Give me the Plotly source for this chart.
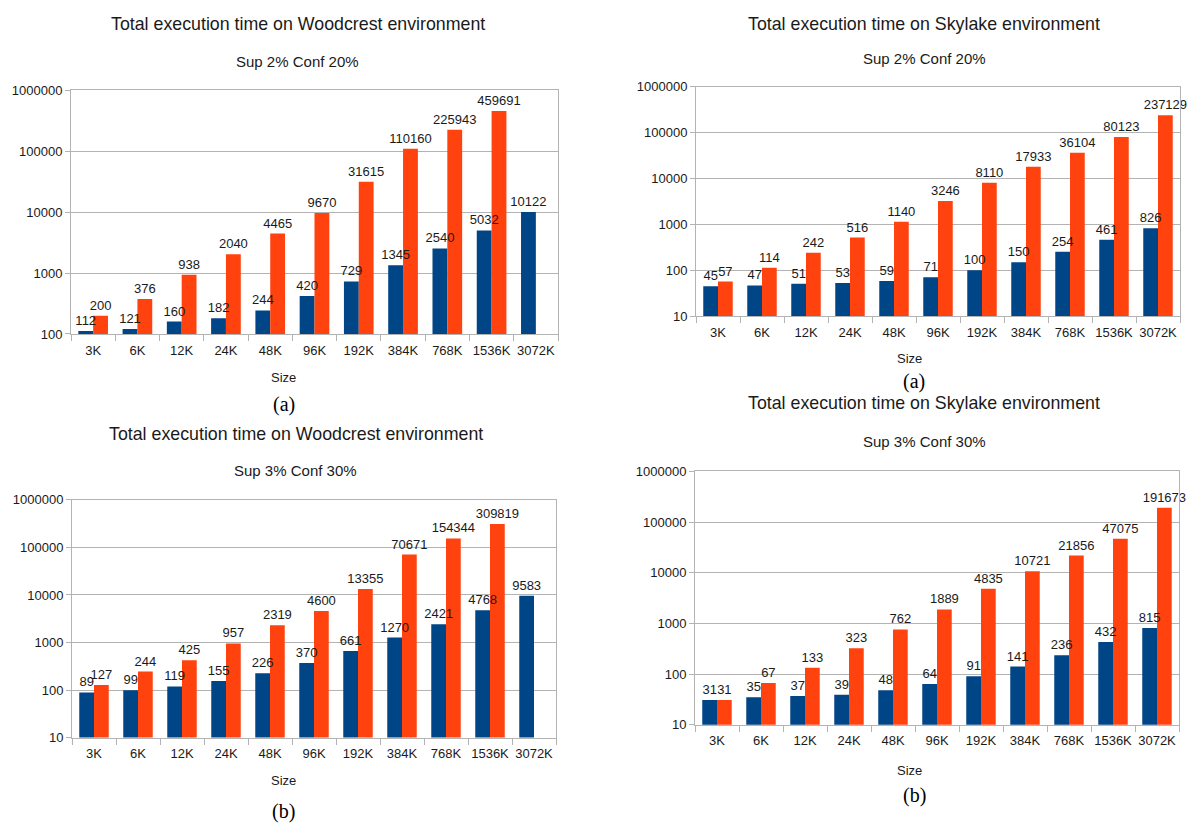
import plotly.graph_objects as go

W, H = 1194, 830

categories = ["3K", "6K", "12K", "24K", "48K", "96K", "192K", "384K", "768K", "1536K", "3072K"]

woodcrest_a_blue = [112, 121, 160, 182, 244, 420, 729, 1345, 2540, 5032, 10122]
woodcrest_a_orange = [200, 376, 938, 2040, 4465, 9670, 31615, 110160, 225943, 459691, None]
skylake_a_blue = [45, 47, 51, 53, 59, 71, 100, 150, 254, 461, 826]
skylake_a_orange = [57, 114, 242, 516, 1140, 3246, 8110, 17933, 36104, 80123, 237129]
woodcrest_b_blue = [89, 99, 119, 155, 226, 370, 661, 1270, 2421, 4768, 9583]
woodcrest_b_orange = [127, 244, 425, 957, 2319, 4600, 13355, 70671, 154344, 309819, None]
skylake_b_blue = [31, 35, 37, 39, 48, 64, 91, 141, 236, 432, 815]
skylake_b_orange = [31, 67, 133, 323, 762, 1889, 4835, 10721, 21856, 47075, 191673]

titles = ["Total execution time on Woodcrest environment", "Total execution time on Skylake environment",
          "Total execution time on Woodcrest environment", "Total execution time on Skylake environment"]
subtitles = ["Sup 2% Conf 20%", "Sup 2% Conf 20%", "Sup 3% Conf 30%", "Sup 3% Conf 30%"]
captions = ["(a)", "(a)", "(b)", "(b)"]
y_ticks = [10, 100, 1000, 10000, 100000, 1000000]
y_tick_text = ["10", "100", "1000", "10000", "100000", "1000000"]

BLUE = "#004586"
ORANGE = "#ff420e"
GRID = "#b3b3b3"
TXT = "#1a1a1a"
SANS = "Liberation Sans, Arial, sans-serif"
SERIF = "Liberation Serif, Times New Roman, serif"

# panel layout in pixels: (x0, x1, ytop, ybottom, log range)
panels = [
    dict(x0=71, x1=558, yt=85, yb=333, rng=[2, 6], series=(woodcrest_a_blue, woodcrest_a_orange),
         title_xy=(298, 17), sub_xy=(297, 55), size_xy=(283, 377), cap_xy=(284, 405)),
    dict(x0=696, x1=1180, yt=81, yb=315, rng=[1, 6], series=(skylake_a_blue, skylake_a_orange),
         title_xy=(924, 17), sub_xy=(924, 52), size_xy=(909, 358), cap_xy=(914, 381)),
    dict(x0=72, x1=556, yt=502, yb=744, rng=[1, 6], series=(woodcrest_b_blue, woodcrest_b_orange),
         title_xy=(296, 435), sub_xy=(295, 472), size_xy=(283, 788), cap_xy=(283, 819)),
    dict(x0=695, x1=1179, yt=473, yb=731, rng=[1, 6], series=(skylake_b_blue, skylake_b_orange),
         title_xy=(924, 403), sub_xy=(924, 443), size_xy=(909, 778), cap_xy=(914, 803)),
]

def px(x):
    return x / W

def py(y):
    return 1 - y / H

fig = go.Figure()
annotations = []
layout_axes = {}

for i, p in enumerate(panels):
    n = i + 1
    xa = "x" if n == 1 else f"x{n}"
    ya = "y" if n == 1 else f"y{n}"
    blue, orange = p["series"]
    groups = (("b", blue, BLUE), ("o", orange, ORANGE))
    # coloured bars first
    for og, vals, col in groups:
        fig.add_trace(go.Bar(
            x=categories, y=vals, xaxis=xa, yaxis=ya, offsetgroup=f"{og}{n}",
            marker=dict(color=col, line=dict(width=0)),
            showlegend=False, hoverinfo="skip",
        ))
    # value labels on top of all bars
    for og, vals, col in groups:
        fig.add_trace(go.Bar(
            x=categories, y=vals, xaxis=xa, yaxis=ya, offsetgroup=f"{og}{n}",
            marker=dict(color="rgba(0,0,0,0)", line=dict(width=0)),
            text=["" if v is None else str(v) for v in vals],
            textposition="outside", cliponaxis=False, constraintext="none",
            textfont=dict(family=SANS, size=13, color=TXT),
            showlegend=False,
        ))
    layout_axes["xaxis" if n == 1 else f"xaxis{n}"] = dict(
        domain=[px(p["x0"]), px(p["x1"])], anchor=ya, type="category",
        showline=True, linecolor=GRID, linewidth=1, mirror=True,
        ticks="outside", tickson="boundaries", ticklen=6, tickcolor=GRID,
        showgrid=False, tickfont=dict(family=SANS, size=13, color=TXT),
        tickangle=0, ticklabelstandoff=4, fixedrange=True,
    )
    layout_axes["yaxis" if n == 1 else f"yaxis{n}"] = dict(
        domain=[py(p["yb"]), py(p["yt"])], anchor=xa, type="log", range=p["rng"],
        tickmode="array", tickvals=y_ticks, ticktext=y_tick_text,
        showline=True, linecolor=GRID, linewidth=1, mirror=True,
        ticks="outside", ticklen=5, tickcolor=GRID,
        showgrid=True, gridcolor=GRID, gridwidth=1, zeroline=False,
        tickfont=dict(family=SANS, size=13, color=TXT), fixedrange=True,
    )
    annotations += [
        dict(text=titles[i], x=px(p["title_xy"][0]), y=py(p["title_xy"][1]), xref="paper", yref="paper",
             showarrow=False, xanchor="center", yanchor="middle", font=dict(family=SANS, size=17.8, color=TXT)),
        dict(text=subtitles[i], x=px(p["sub_xy"][0]), y=py(p["sub_xy"][1]), xref="paper", yref="paper",
             showarrow=False, xanchor="center", yanchor="middle", font=dict(family=SANS, size=15, color=TXT)),
        dict(text="Size", x=px(p["size_xy"][0]), y=py(p["size_xy"][1]), xref="paper", yref="paper",
             showarrow=False, xanchor="center", yanchor="middle", font=dict(family=SANS, size=13, color=TXT)),
        dict(text=captions[i], x=px(p["cap_xy"][0]), y=py(p["cap_xy"][1]), xref="paper", yref="paper",
             showarrow=False, xanchor="center", yanchor="middle", font=dict(family=SERIF, size=20, color="#000000")),
    ]

fig.update_layout(
    width=W, height=H, margin=dict(l=0, r=0, t=0, b=0),
    paper_bgcolor="white", plot_bgcolor="white",
    barmode="group", bargap=0.33, bargroupgap=0,
    annotations=annotations, showlegend=False,
    **layout_axes,
)

fig.write_html("out.html", config=dict(displayModeBar=False))
